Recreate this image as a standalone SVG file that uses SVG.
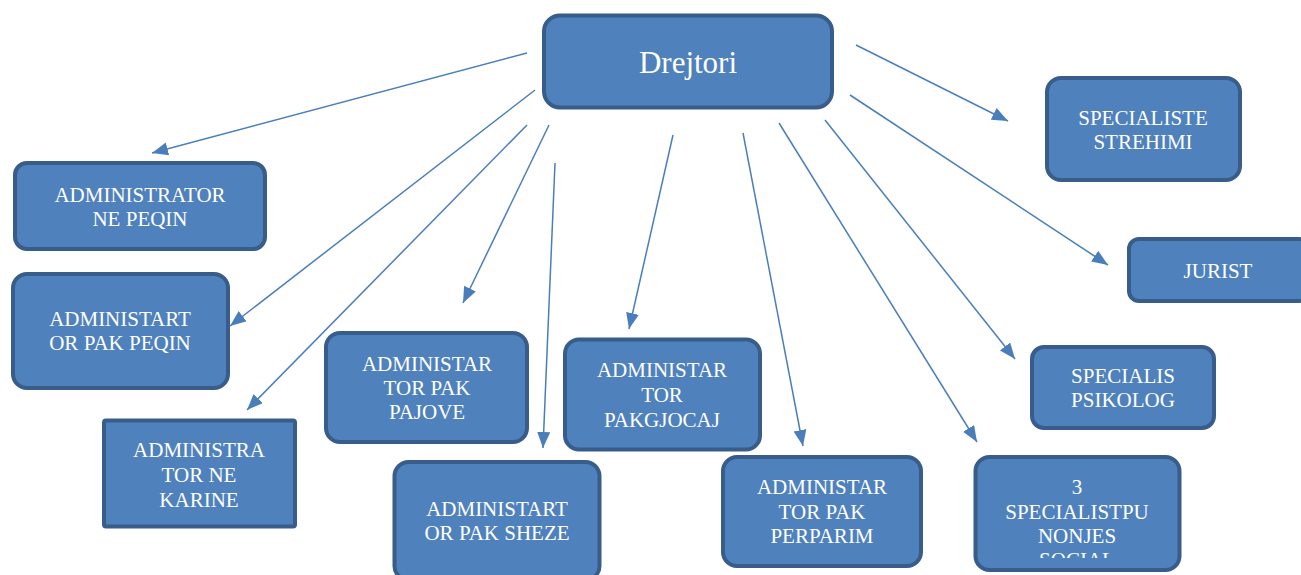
<svg xmlns="http://www.w3.org/2000/svg" width="1301" height="575" viewBox="0 0 1301 575">
<style>
.box{fill:#4F81BD;stroke:#385D8A;stroke-width:4}
.t{fill:#ffffff;font-size:21px;text-anchor:middle}
.c{stroke:#4A7EBB;stroke-width:1.5;fill:none;marker-end:url(#ah)}
</style>
<defs>
<marker id="ah" markerUnits="userSpaceOnUse" markerWidth="18" markerHeight="14" refX="16" refY="6.5" orient="auto">
<path d="M0,0 L16,6.5 L0,13 Z" fill="#4A7EBB"/>
</marker>
<clipPath id="clipSoc"><rect x="975" y="457" width="206" height="101"/></clipPath>
</defs>
<rect width="1301" height="575" fill="#ffffff"/>
<g id="connectors">
<line class="c" x1="527" y1="53" x2="152" y2="153"/>
<line class="c" x1="535" y1="90" x2="230" y2="326"/>
<line class="c" x1="527" y1="125" x2="247" y2="410"/>
<line class="c" x1="549" y1="125" x2="463" y2="303"/>
<line class="c" x1="555" y1="163" x2="543" y2="448"/>
<line class="c" x1="673" y1="135" x2="629" y2="329"/>
<line class="c" x1="743" y1="133" x2="803" y2="446"/>
<line class="c" x1="779" y1="123" x2="977" y2="442"/>
<line class="c" x1="825" y1="120" x2="1015" y2="359"/>
<line class="c" x1="850" y1="95" x2="1108" y2="265"/>
<line class="c" x1="856" y1="45" x2="1008" y2="121"/>
</g>
<g font-family="'Liberation Serif', 'DejaVu Serif', serif">
<g id="drejtori">
<rect class="box" x="544" y="15.5" width="288" height="92" rx="16"/>
<text class="t" x="688" y="73" style="font-size:31px">Drejtori</text>
</g>
<g id="admin-ne-peqin">
<rect class="box" x="15" y="163" width="250" height="86" rx="12"/>
<text class="t" x="140" y="202">ADMINISTRATOR</text>
<text class="t" x="140" y="226">NE PEQIN</text>
</g>
<g id="admin-pak-peqin">
<rect class="box" x="13" y="274" width="215" height="114" rx="14"/>
<text class="t" x="120" y="326">ADMINISTART</text>
<text class="t" x="120" y="350">OR PAK PEQIN</text>
</g>
<g id="admin-ne-karine">
<rect class="box" x="104" y="420.5" width="191" height="106" rx="2"/>
<text class="t" x="199" y="457">ADMINISTRA</text>
<text class="t" x="199" y="482">TOR NE</text>
<text class="t" x="199" y="507">KARINE</text>
</g>
<g id="admin-pak-pajove">
<rect class="box" x="326" y="333" width="201" height="109" rx="14"/>
<text class="t" x="427" y="371">ADMINISTAR</text>
<text class="t" x="427" y="395">TOR PAK</text>
<text class="t" x="427" y="419">PAJOVE</text>
</g>
<g id="admin-pak-sheze">
<rect class="box" x="394.5" y="462" width="205" height="118" rx="14"/>
<text class="t" x="497" y="516">ADMINISTART</text>
<text class="t" x="497" y="540">OR PAK SHEZE</text>
</g>
<g id="admin-pakgjocaj">
<rect class="box" x="565" y="339.5" width="195" height="110" rx="14"/>
<text class="t" x="662" y="377">ADMINISTAR</text>
<text class="t" x="662" y="402">TOR</text>
<text class="t" x="662" y="427">PAKGJOCAJ</text>
</g>
<g id="admin-pak-perparim">
<rect class="box" x="723" y="457" width="198" height="109" rx="14"/>
<text class="t" x="822" y="494">ADMINISTAR</text>
<text class="t" x="822" y="519">TOR PAK</text>
<text class="t" x="822" y="543">PERPARIM</text>
</g>
<g id="specialist-social">
<rect class="box" x="975.5" y="457" width="204" height="113" rx="14"/>
<g clip-path="url(#clipSoc)">
<text class="t" x="1077" y="494">3</text>
<text class="t" x="1077" y="519">SPECIALISTPU</text>
<text class="t" x="1077" y="543">NONJES</text>
<text class="t" x="1077" y="567">SOCIAL</text>
</g>
</g>
<g id="specialiste-strehimi">
<rect class="box" x="1047" y="78" width="193" height="102" rx="14"/>
<text class="t" x="1143" y="125">SPECIALISTE</text>
<text class="t" x="1143" y="149">STREHIMI</text>
</g>
<g id="jurist">
<rect class="box" x="1129" y="239" width="180" height="62" rx="10"/>
<text class="t" x="1218" y="278">JURIST</text>
</g>
<g id="specialis-psikolog">
<rect class="box" x="1032" y="347" width="182" height="81" rx="12"/>
<text class="t" x="1123" y="383">SPECIALIS</text>
<text class="t" x="1123" y="407">PSIKOLOG</text>
</g>
</g>
</svg>
